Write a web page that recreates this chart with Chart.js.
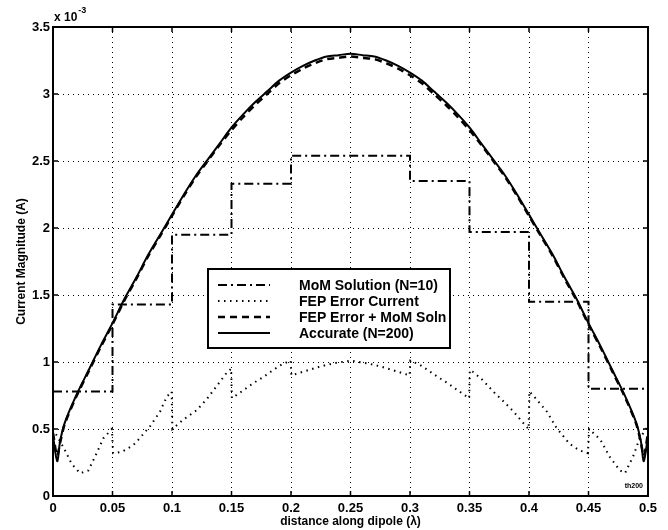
<!DOCTYPE html>
<html>
<head>
<meta charset="utf-8">
<script src="https://cdn.jsdelivr.net/npm/chart.js@4.4.1/dist/chart.umd.min.js"></script>
<style>
  html, body { margin: 0; padding: 0; background: #fff; }
</style>
</head>
<body>
<canvas id="graph" width="668" height="530"></canvas>
<script>
// Tick labels (y values are in units of 10^-3 A)
const xTickLabels = ["0", "0.05", "0.1", "0.15", "0.2", "0.25", "0.3", "0.35", "0.4", "0.45", "0.5"];
const yTickLabels = ["0", "0.5", "1", "1.5", "2", "2.5", "3", "3.5"];

// MoM Solution (N=10): one value per segment, last point closes the final step
const momX = [0, 0.05, 0.1, 0.15, 0.2, 0.25, 0.3, 0.35, 0.4, 0.45, 0.5];
const momY = [0.78, 1.43, 1.95, 2.33, 2.54, 2.54, 2.35, 1.97, 1.45, 0.80, 0.80];

// FEP Error Current
const fepX = [0, 0.0045, 0.009, 0.0157, 0.0227, 0.0297, 0.0367, 0.0423, 0.0495,
              0.0505, 0.058, 0.0675, 0.0717, 0.0815, 0.09, 0.0955, 0.0997,
              0.1003, 0.1095, 0.1207, 0.129, 0.1375, 0.146, 0.1497,
              0.1503, 0.1585, 0.168, 0.177, 0.185, 0.192, 0.1997,
              0.2003, 0.213, 0.224, 0.2355, 0.25, 0.2645, 0.276, 0.287, 0.2997,
              0.3003, 0.308, 0.315, 0.323, 0.332, 0.3415, 0.3497,
              0.3503, 0.354, 0.3616, 0.371, 0.3793, 0.387, 0.3966, 0.3997,
              0.4003, 0.4045, 0.415, 0.423, 0.434, 0.4425, 0.4495,
              0.4505, 0.46, 0.468, 0.4765, 0.4807, 0.4877, 0.493, 0.5];
const fepY = [0.50, 0.43, 0.36, 0.24, 0.17, 0.19, 0.32, 0.43, 0.50,
              0.32, 0.33, 0.38, 0.42, 0.52, 0.63, 0.74, 0.78,
              0.50, 0.57, 0.64, 0.72, 0.82, 0.92, 0.95,
              0.73, 0.78, 0.84, 0.89, 0.94, 0.98, 1.01,
              0.90, 0.935, 0.965, 0.99, 1.01, 0.99, 0.965, 0.935, 0.90,
              1.01, 0.98, 0.94, 0.89, 0.84, 0.78, 0.73,
              0.94, 0.92, 0.86, 0.77, 0.70, 0.63, 0.53, 0.50,
              0.78, 0.74, 0.63, 0.51, 0.39, 0.34, 0.32,
              0.50, 0.42, 0.29, 0.19, 0.17, 0.30, 0.43, 0.52];

// Accurate (N=200) and FEP Error + MoM Soln share the same x positions
const accX = [0, 0.0035, 0.006, 0.01, 0.02, 0.03, 0.04, 0.05, 0.06, 0.07, 0.08, 0.09,
              0.10, 0.11, 0.12, 0.13, 0.14, 0.15, 0.16, 0.17, 0.18, 0.19, 0.20, 0.21,
              0.22, 0.23, 0.24, 0.25, 0.26, 0.27, 0.28, 0.29, 0.30, 0.31, 0.32, 0.33,
              0.34, 0.35, 0.36, 0.37, 0.38, 0.39, 0.40, 0.41, 0.42, 0.43, 0.44, 0.45,
              0.46, 0.47, 0.48, 0.49, 0.494, 0.4965, 0.5];
const accY = [0.45, 0.26, 0.41, 0.55, 0.76, 0.94, 1.12, 1.29, 1.47, 1.63, 1.80, 1.95,
              2.10, 2.25, 2.39, 2.51, 2.63, 2.75, 2.85, 2.94, 3.02, 3.10, 3.16, 3.21,
              3.25, 3.28, 3.29, 3.30, 3.29, 3.28, 3.25, 3.21, 3.16, 3.10, 3.02, 2.94,
              2.85, 2.75, 2.63, 2.51, 2.39, 2.25, 2.10, 1.95, 1.80, 1.63, 1.47, 1.29,
              1.12, 0.94, 0.76, 0.55, 0.41, 0.26, 0.45];
const sumY = [0.47, 0.30, 0.40, 0.54, 0.75, 0.93, 1.11, 1.28, 1.46, 1.62, 1.79, 1.94,
              2.09, 2.24, 2.38, 2.50, 2.62, 2.73, 2.83, 2.92, 3.00, 3.08, 3.14, 3.19,
              3.23, 3.26, 3.27, 3.28, 3.27, 3.26, 3.23, 3.19, 3.14, 3.08, 3.00, 2.92,
              2.83, 2.73, 2.62, 2.50, 2.38, 2.24, 2.09, 1.94, 1.79, 1.62, 1.46, 1.28,
              1.11, 0.93, 0.75, 0.54, 0.40, 0.30, 0.47];

const fontFamily = "'Liberation Sans', Arial, sans-serif";

function toPoints(xs, ys) {
    return xs.map((x, i) => ({ x: x, y: ys[i] }));
}

// Frame, inward ticks, exponent label, legend box and the small tag
const decorPlugin = {
    id: "decor",
    afterDatasetsDraw(chart) {
        const ctx = chart.ctx;
        const area = chart.chartArea;
        const xs = chart.scales.x;
        const ys = chart.scales.y;
        ctx.save();

        // inward tick marks on all four sides
        ctx.strokeStyle = "#000";
        ctx.lineWidth = 1.5;
        ctx.setLineDash([]);
        ctx.beginPath();
        xs.ticks.forEach(t => {
            let px = xs.getPixelForValue(t.value);
            ctx.moveTo(px, area.bottom); ctx.lineTo(px, area.bottom - 5);
            ctx.moveTo(px, area.top); ctx.lineTo(px, area.top + 5);
        });
        ys.ticks.forEach(t => {
            let py = ys.getPixelForValue(t.value);
            ctx.moveTo(area.left, py); ctx.lineTo(area.left + 5, py);
            ctx.moveTo(area.right, py); ctx.lineTo(area.right - 5, py);
        });
        ctx.stroke();

        // plot frame
        ctx.lineWidth = 2;
        ctx.strokeRect(area.left, area.top, area.right - area.left, area.bottom - area.top);

        // exponent label
        ctx.fillStyle = "#000";
        ctx.textBaseline = "alphabetic";
        ctx.textAlign = "left";
        ctx.font = "bold 12px " + fontFamily;
        ctx.fillText("x 10", area.left + 1, area.top - 6);
        let w = ctx.measureText("x 10").width;
        ctx.font = "bold 9px " + fontFamily;
        ctx.fillText("-3", area.left + 2 + w, area.top - 14);

        // small tag in the lower right corner
        ctx.font = "bold 7px " + fontFamily;
        ctx.textAlign = "right";
        ctx.fillText("th200", area.right - 5, area.bottom - 8);

        // legend
        const box = { left: 208, top: 269, right: 450, bottom: 348 };
        ctx.fillStyle = "#fff";
        ctx.fillRect(box.left, box.top, box.right - box.left, box.bottom - box.top);
        ctx.strokeStyle = "#000";
        ctx.lineWidth = 2;
        ctx.setLineDash([]);
        ctx.strokeRect(box.left, box.top, box.right - box.left, box.bottom - box.top);

        ctx.font = "bold 14px " + fontFamily;
        ctx.textAlign = "left";
        ctx.textBaseline = "middle";
        chart.data.datasets.forEach((ds, i) => {
            let y = box.top + 16 + i * 16;
            ctx.beginPath();
            ctx.strokeStyle = "#000";
            ctx.lineWidth = ds.borderWidth;
            ctx.setLineDash(ds.borderDash || []);
            ctx.moveTo(218, y);
            ctx.lineTo(270, y);
            ctx.stroke();
            ctx.setLineDash([]);
            ctx.fillStyle = "#000";
            ctx.fillText(ds.label, 299, y + 1);
        });

        ctx.restore();
    }
};

let ctx = document.getElementById("graph");
let chart = new Chart(ctx, {
    type: "line",
    data: {
        datasets: [{
            label: "MoM Solution (N=10)",
            data: toPoints(momX, momY),
            borderColor: "#000",
            borderWidth: 2,
            borderDash: [9, 4, 2, 4],
            stepped: true,
            pointRadius: 0,
            fill: false
        }, {
            label: "FEP Error Current",
            data: toPoints(fepX, fepY),
            borderColor: "#000",
            borderWidth: 2,
            borderDash: [1.5, 4.5],
            pointRadius: 0,
            tension: 0,
            fill: false
        }, {
            label: "FEP Error + MoM Soln",
            data: toPoints(accX, sumY),
            borderColor: "#000",
            borderWidth: 2.5,
            borderDash: [7, 5],
            pointRadius: 0,
            tension: 0.3,
            fill: false
        }, {
            label: "Accurate (N=200)",
            data: toPoints(accX, accY),
            borderColor: "#000",
            borderWidth: 2,
            pointRadius: 0,
            tension: 0.3,
            fill: false
        }]
    },
    options: {
        responsive: false,
        animation: false,
        layout: { padding: { left: 0, right: 20, top: 27, bottom: 0 } },
        plugins: {
            legend: { display: false },
            tooltip: { enabled: false }
        },
        scales: {
            x: {
                type: "linear",
                min: 0,
                max: 0.5,
                ticks: {
                    stepSize: 0.05,
                    autoSkip: false,
                    maxRotation: 0,
                    padding: 5,
                    color: "#000",
                    font: { family: fontFamily, size: 13, weight: "bold" },
                    callback: (v, i) => xTickLabels[i]
                },
                grid: { color: "#000", lineWidth: 1, drawTicks: false },
                border: { display: false, dash: [1, 4] },
                title: {
                    display: true,
                    text: "distance along dipole (\u03bb)",
                    color: "#000",
                    font: { family: fontFamily, size: 12, weight: "bold" },
                    padding: { top: 0, bottom: 1 }
                },
                afterFit(scale) { scale.height = 34; }
            },
            y: {
                min: 0,
                max: 3.5,
                ticks: {
                    stepSize: 0.5,
                    padding: 3,
                    color: "#000",
                    font: { family: fontFamily, size: 13, weight: "bold" },
                    callback: (v, i) => yTickLabels[i]
                },
                grid: { color: "#000", lineWidth: 1, drawTicks: false },
                border: { display: false, dash: [1, 4] },
                title: {
                    display: true,
                    text: "Current Magnitude (A)",
                    color: "#000",
                    font: { family: fontFamily, size: 12, weight: "bold" },
                    padding: { top: 14, bottom: 0 }
                },
                afterFit(scale) { scale.width = 53; }
            }
        }
    },
    plugins: [decorPlugin]
});
</script>
</body>
</html>
